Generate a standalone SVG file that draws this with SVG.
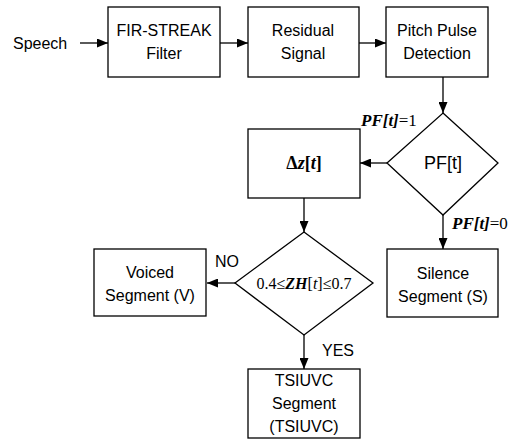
<svg xmlns="http://www.w3.org/2000/svg" width="518" height="441" viewBox="0 0 518 441">
<style>
.box{fill:#fff;stroke:#000;stroke-width:1.3}
.t{font-family:"Liberation Sans",Arial,sans-serif;font-size:16px;fill:#000;text-anchor:middle}
.s{font-family:"Liberation Serif","Times New Roman",serif;font-size:16px;fill:#000}
.c{stroke:#000;stroke-width:1.3;fill:none;marker-end:url(#ah)}
</style>
<defs>
<marker id="ah" markerUnits="userSpaceOnUse" markerWidth="11" markerHeight="9" refX="11" refY="4.5" orient="auto">
<path d="M0,0 L11,4.5 L0,9 z" fill="#000"/>
</marker>
</defs>
<rect width="518" height="441" fill="#fff"/>
<g id="connectors">
<line class="c" x1="80" y1="43" x2="108" y2="43"/>
<line class="c" x1="220" y1="43" x2="248" y2="43"/>
<line class="c" x1="359" y1="43" x2="386" y2="43"/>
<line class="c" x1="443" y1="77" x2="443" y2="113"/>
<line class="c" x1="387" y1="163" x2="360" y2="163"/>
<line class="c" x1="443" y1="215" x2="443" y2="249"/>
<line class="c" x1="304" y1="198" x2="304" y2="232"/>
<line class="c" x1="235" y1="283" x2="207" y2="283"/>
<line class="c" x1="304" y1="335" x2="304" y2="369"/>
</g>
<g id="labels">
<text class="t" x="13" y="49" style="text-anchor:start">Speech</text>
<text class="s" x="361" y="126" style="font-size:17px"><tspan font-style="italic" font-weight="bold">PF[t]</tspan>=1</text>
<text class="s" x="452" y="229" style="font-size:17px"><tspan font-style="italic" font-weight="bold">PF[t]</tspan>=0</text>
<text class="t" x="227" y="267">NO</text>
<text class="t" x="338" y="356">YES</text>
</g>
<g id="fir">
<rect class="box" x="108" y="7" width="112" height="70"/>
<text class="t" x="164" y="36">FIR-STREAK</text>
<text class="t" x="164" y="59">Filter</text>
</g>
<g id="residual">
<rect class="box" x="248" y="7" width="111" height="70"/>
<text class="t" x="303" y="36">Residual</text>
<text class="t" x="303" y="59">Signal</text>
</g>
<g id="pitch">
<rect class="box" x="386" y="7" width="102" height="70"/>
<text class="t" x="437" y="36">Pitch Pulse</text>
<text class="t" x="437" y="59">Detection</text>
</g>
<g id="pf">
<polygon class="box" points="443,113 498,163 443,215 387,163"/>
<text class="t" x="443" y="169" style="font-size:18px">PF[t]</text>
</g>
<g id="dz">
<rect class="box" x="248" y="129" width="112" height="69"/>
<text class="s" x="304" y="169" text-anchor="middle" font-weight="bold" style="font-size:18px">Δ<tspan font-style="italic">z</tspan>[<tspan font-style="italic">t</tspan>]</text>
</g>
<g id="zh">
<polygon class="box" points="304,232 373,283 304,335 235,283"/>
<text class="s" x="304" y="289" text-anchor="middle">0.4≤<tspan font-style="italic" font-weight="bold">ZH</tspan>[<tspan font-style="italic">t</tspan>]≤0.7</text>
</g>
<g id="voiced">
<rect class="box" x="94" y="249" width="112" height="67"/>
<text class="t" x="150" y="278">Voiced</text>
<text class="t" x="150" y="301">Segment (V)</text>
</g>
<g id="silence">
<rect class="box" x="387" y="249" width="111" height="68"/>
<text class="t" x="443" y="279">Silence</text>
<text class="t" x="443" y="302">Segment (S)</text>
</g>
<g id="tsiuvc">
<rect class="box" x="248" y="369" width="112" height="69"/>
<text class="t" x="304" y="386">TSIUVC</text>
<text class="t" x="304" y="409">Segment</text>
<text class="t" x="304" y="432">(TSIUVC)</text>
</g>
</svg>
